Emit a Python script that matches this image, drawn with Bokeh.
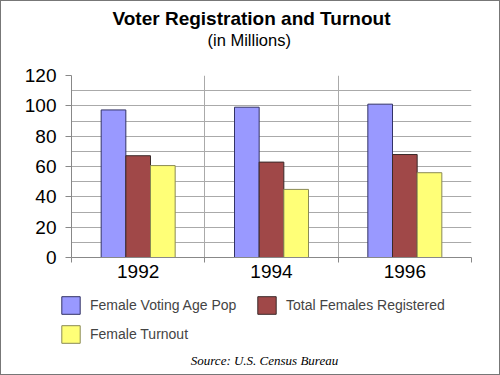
from bokeh.plotting import figure
from bokeh.layouts import column, row
from bokeh.models import (Range1d, FixedTicker, Title, Legend, LegendItem,
                          ColumnDataSource, Label)
from bokeh.transform import dodge
from bokeh.embed import file_html
from bokeh.resources import INLINE

# ---- data ----
years = ["1992", "1994", "1996"]
series_names = ["Female Voting Age Pop", "Total Females Registered", "Female Turnout"]
voting_age_pop = [97.3, 99.1, 101.1]
registered = [67.1, 62.9, 67.9]
turnout = [60.6, 44.9, 55.9]
y_ticks = [0, 20, 40, 60, 80, 100, 120]
y_minor = [10, 30, 50, 70, 90, 110]

colors = ["#9999FF", "#A04848", "#FFFF77"]
outlines = ["#333366", "#3a2a2a", "#8a8a55"]

xs = [i + 0.5 for i in range(len(years))]
src = ColumnDataSource(dict(x=xs, a=voting_age_pop, b=registered, c=turnout))

p = figure(frame_width=400, frame_height=182,
           min_border_left=71, min_border_right=29, min_border_top=75, min_border_bottom=37,
           x_range=Range1d(0, len(years)), y_range=Range1d(y_ticks[0], y_ticks[-1]),
           title=None, output_backend="svg", toolbar_location=None, tools="")
p.outline_line_color = None
p.background_fill_color = "white"
p.border_fill_alpha = 0

bw = 0.185
tops = ["a", "b", "c"]
offsets = [-bw, 0, bw]
for t, off, fc, lc in zip(tops, offsets, colors, outlines):
    p.vbar(x=dodge("x", off, range=p.x_range), top=t, width=bw, source=src,
           fill_color=fc, line_color=lc, line_width=1)

# y axis
p.yaxis.ticker = FixedTicker(ticks=y_ticks, minor_ticks=y_minor)
p.yaxis.major_label_text_font = "Liberation Sans"
p.yaxis.major_label_text_font_size = "19px"
p.yaxis.major_label_text_color = "black"
p.yaxis.major_tick_out = 6
p.yaxis.major_tick_in = 0
p.yaxis.minor_tick_out = 0
p.yaxis.minor_tick_in = 0
p.yaxis.major_label_standoff = 9
p.yaxis.axis_line_color = "#888888"
p.yaxis.major_tick_line_color = "#888888"
p.ygrid.grid_line_color = "#aaaaaa"
p.ygrid.minor_grid_line_color = "#aaaaaa"

# x axis
p.xaxis.ticker = FixedTicker(ticks=xs, minor_ticks=list(range(len(years) + 1)))
p.xaxis.major_label_overrides = {x: y for x, y in zip(xs, years)}
p.xaxis.major_label_text_font = "Liberation Sans"
p.xaxis.major_label_text_font_size = "19px"
p.xaxis.major_label_text_color = "black"
p.xaxis.major_tick_out = 0
p.xaxis.major_tick_in = 0
p.xaxis.minor_tick_out = 5
p.xaxis.minor_tick_in = 0
p.xaxis.major_label_standoff = 2
p.xaxis.axis_line_color = "#888888"
p.xaxis.minor_tick_line_color = "#888888"
p.xgrid.ticker = FixedTicker(ticks=list(range(len(years) + 1)))
p.xgrid.grid_line_color = "#aaaaaa"

# titles: spacer nearest the frame, then subtitle, then main title
spacer = Title(text=" ", text_font_size="1px", standoff=24)
sub = Title(text="(in Millions)", align="left", offset=136, standoff=0,
            text_font="Liberation Sans", text_font_style="normal",
            text_font_size="16.5px", text_color="black")
main = Title(text="Voter Registration and Turnout", align="left", offset=41, standoff=0,
             text_font="Liberation Sans", text_font_style="bold",
             text_font_size="19px", text_color="black")
p.add_layout(spacer, "above")
p.add_layout(sub, "above")
p.add_layout(main, "above")

# ---- legend + source strip below the chart ----
# (its ranges keep the legend's proxy bars out of view; only their swatches show)
p2 = figure(width=500, height=81, min_border=0,
            x_range=Range1d(-1000, -500), y_range=Range1d(-1000, -919),
            x_axis_location=None, y_axis_location=None, title=None,
            output_backend="svg", toolbar_location=None, tools="")
p2.outline_line_color = None
p2.grid.visible = False
p2.background_fill_alpha = 0
p2.border_fill_alpha = 0

proxies = [p2.vbar(x="x", top=t, width=bw, source=src, fill_color=fc, line_color=lc, line_width=1)
           for t, fc, lc in zip(tops, colors, outlines)]
legend = Legend(items=[LegendItem(label=n, renderers=[r]) for n, r in zip(series_names, proxies)],
                location=(59, 30), orientation="horizontal", ncols=2,
                glyph_width=23, glyph_height=22, label_standoff=8, label_width=158,
                spacing=7, padding=0, margin=0,
                label_text_font="Liberation Sans", label_text_font_size="14px",
                border_line_color=None, background_fill_alpha=0)
p2.add_layout(legend)
p2.add_layout(Label(x=264, y=15, x_units="screen", y_units="screen",
                    text="Source: U.S. Census Bureau", text_align="center",
                    text_baseline="middle", text_font="Liberation Serif",
                    text_font_style="italic", text_font_size="13px", text_color="black"))

layout = column(p, row(p2, spacing=0), spacing=0)
layout.styles = {"box-shadow": "inset 0 0 0 1px #777777", "background-color": "white"}

open("out.html", "w").write(file_html(layout, INLINE))
